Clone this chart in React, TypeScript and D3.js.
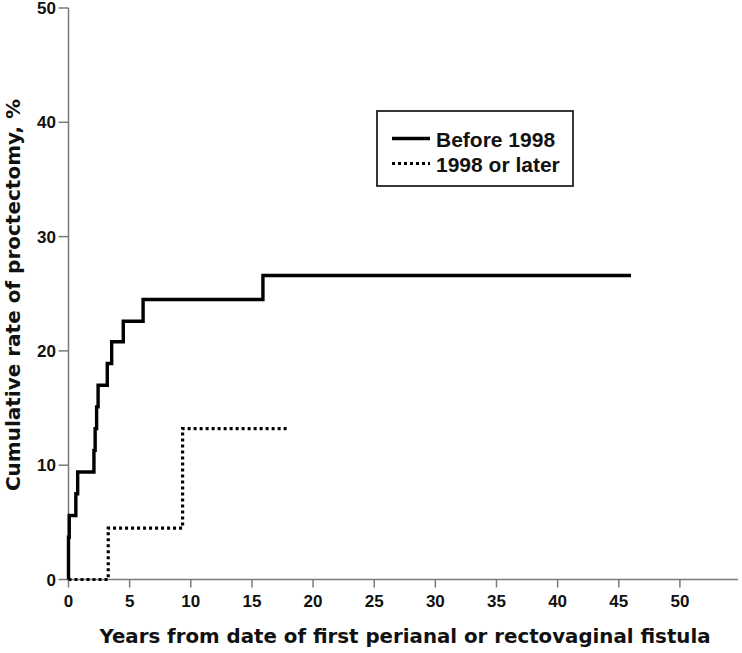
import React from "react";
import * as d3 from "d3";

const xTicks = [0, 5, 10, 15, 20, 25, 30, 35, 40, 45, 50];
const yTicks = [0, 10, 20, 30, 40, 50];

const before1998Times = [0.0, 0.06, 0.6, 0.75, 2.08, 2.18, 2.3, 2.42, 3.17, 3.53, 4.48, 6.1, 15.9];
const before1998Rates = [3.7, 5.6, 7.5, 9.4, 11.3, 13.2, 15.1, 17.0, 18.9, 20.8, 22.6, 24.5, 26.6];
const before1998End = 46.0;

const later1998Times = [3.25, 9.33];
const later1998Rates = [4.5, 13.2];
const later1998End = 17.85;

const seriesNames = ["Before 1998", "1998 or later"];

const W = 742;
const H = 653;

function buildPoints(times: number[], rates: number[], end: number): [number, number][] {
  const pts: [number, number][] = [[0, 0]];
  times.forEach((t, i) => pts.push([t, rates[i]]));
  pts.push([end, rates[rates.length - 1]]);
  return pts;
}

export default function App() {
  const x = d3.scaleLinear().domain([0, 54.75]).range([68.5, 738]);
  const y = d3.scaleLinear().domain([0, 50]).range([579.5, 8]);
  const line = d3
    .line<[number, number]>()
    .x((d) => x(d[0]))
    .y((d) => y(d[1]))
    .curve(d3.curveStepAfter);

  const beforePts = buildPoints(before1998Times, before1998Rates, before1998End);
  const laterPts = buildPoints(later1998Times, later1998Rates, later1998End);

  const axisColor = "#7a7a7a";
  const labelFont = "'Liberation Sans', Arial, sans-serif";
  const titleFont = "'DejaVu Sans', Verdana, sans-serif";

  return (
    <svg width={W} height={H} style={{ position: "absolute", left: 0, top: 0, background: "#fff" }}>
      <rect x={0} y={0} width={W} height={H} fill="#fff" />
      {/* axes */}
      <line x1={x(0)} x2={x(0)} y1={y(50)} y2={y(0)} stroke={axisColor} strokeWidth={1.5} />
      <line x1={x(0)} x2={738} y1={y(0)} y2={y(0)} stroke={axisColor} strokeWidth={1.5} />
      {yTicks.map((t) => (
        <g key={"y" + t}>
          <line x1={x(0) - 10} x2={x(0)} y1={y(t)} y2={y(t)} stroke={axisColor} strokeWidth={1.5} />
          <text
            x={x(0) - 12.5}
            y={y(t)}
            dy="0.36em"
            textAnchor="end"
            fontFamily={labelFont}
            fontWeight="bold"
            fontSize={17}
            fill="#111"
          >
            {t}
          </text>
        </g>
      ))}
      {xTicks.map((t) => (
        <g key={"x" + t}>
          <line x1={x(t)} x2={x(t)} y1={y(0)} y2={y(0) + 8} stroke={axisColor} strokeWidth={1.5} />
          <text
            x={x(t)}
            y={606.5}
            textAnchor="middle"
            fontFamily={labelFont}
            fontWeight="bold"
            fontSize={17}
            fill="#111"
          >
            {t}
          </text>
        </g>
      ))}
      {/* axis titles */}
      <text
        x={405}
        y={643}
        textAnchor="middle"
        fontFamily={titleFont}
        fontWeight="bold"
        fontSize={19.8}
        fill="#111"
      >
        Years from date of first perianal or rectovaginal fistula
      </text>
      <text
        transform="translate(20,295) rotate(-90)"
        textAnchor="middle"
        fontFamily={titleFont}
        fontWeight="bold"
        fontSize={20}
        fill="#111"
      >
        Cumulative rate of proctectomy, %
      </text>
      {/* series */}
      <path d={line(beforePts) || ""} fill="none" stroke="#000" strokeWidth={3.4} strokeLinejoin="miter" />
      <path
        d={line(laterPts) || ""}
        fill="none"
        stroke="#000"
        strokeWidth={3.2}
        strokeDasharray="3,3"
      />
      {/* legend */}
      <rect x={377} y={111} width={196} height={75} fill="#fff" stroke="#222" strokeWidth={1.8} />
      <line x1={392} x2={430} y1={138.5} y2={138.5} stroke="#000" strokeWidth={3.4} />
      <line x1={392} x2={430} y1={163.5} y2={163.5} stroke="#000" strokeWidth={3.2} strokeDasharray="3,3" />
      <text x={436} y={146.5} fontFamily={labelFont} fontWeight="bold" fontSize={21} fill="#111">
        {seriesNames[0]}
      </text>
      <text x={436} y={171.5} fontFamily={labelFont} fontWeight="bold" fontSize={21} fill="#111">
        {seriesNames[1]}
      </text>
    </svg>
  );
}
